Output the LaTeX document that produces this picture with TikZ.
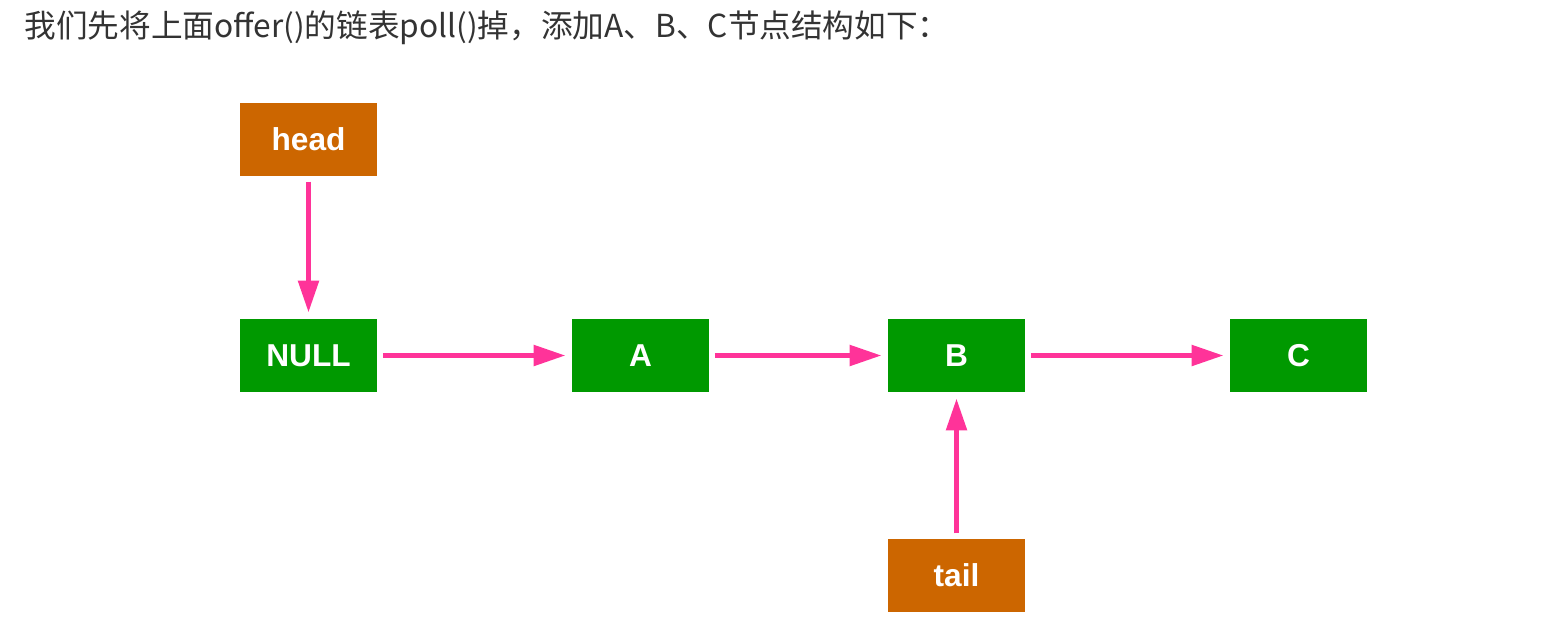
\documentclass[tikz,border=0pt]{standalone}
\usepackage{fontspec}
\setmainfont{Liberation Sans}
\newfontfamily\cjk{Noto Sans CJK SC}
\usetikzlibrary{arrows.meta}
\definecolor{ptrorange}{HTML}{CC6600}
\definecolor{nodegreen}{HTML}{009900}
\definecolor{linkpink}{HTML}{FF3399}
\definecolor{captiongray}{HTML}{333333}

\begin{document}
\begin{tikzpicture}[x=0.01cm, y=-0.01cm,
    every node/.style={font=\fontsize{9}{11}\selectfont\bfseries},
    box/.style={minimum width=1.37cm, minimum height=0.73cm, inner sep=0pt, text=white},
    ptr/.style={box, fill=ptrorange},
    item/.style={box, fill=nodegreen},
    link/.style={linkpink, line width=1.2pt, -{Triangle[length=9pt, width=5.8pt]},
      shorten <=0.5mm, shorten >=0.6mm}]
    \useasboundingbox (0,0) rectangle (1558,624);

    \node[anchor=west, text=captiongray, font=\cjk\fontsize{9}{11}\selectfont] (caption) at (12,28)
      {我们先将上面offer()的链表poll()掉，添加A、B、C节点结构如下：};

    \node[ptr] (head) at (308.5,139.5) {head};
    \node[item] (null) at (308.5,355.5) {NULL};
    \node[item] (a) at (640.5,355.5) {A};
    \node[item] (b) at (956.5,355.5) {B};
    \node[item] (c) at (1298.5,355.5) {C};
    \node[ptr] (tail) at (956.5,575.5) {tail};

    \draw[link] (head) -- (null);
    \draw[link] (null) -- (a);
    \draw[link] (a) -- (b);
    \draw[link] (b) -- (c);
    \draw[link] (tail) -- (b);
\end{tikzpicture}
\end{document}
